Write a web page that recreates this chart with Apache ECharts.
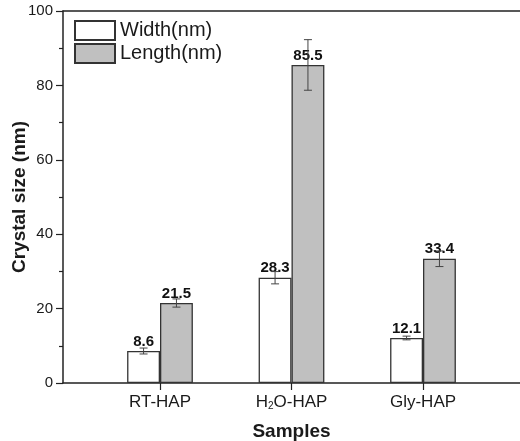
<!DOCTYPE html>
<html>
<head>
<meta charset="utf-8">
<script src="https://cdn.jsdelivr.net/npm/echarts@6/dist/echarts.min.js"></script>
<style>
  html, body { margin: 0; padding: 0; background: #fff; overflow: hidden; }
  #chart { width: 520px; height: 441px; }
</style>
</head>
<body>
<div id="chart"></div>
<script>
// data
var categories = ['RT-HAP', 'H2O-HAP', 'Gly-HAP'];
var widthValues = [8.6, 28.3, 12.1];
var widthErrors = [0.8, 1.65, 0.5];
var lengthValues = [21.5, 85.5, 33.4];
var lengthErrors = [1.1, 6.8, 2.1];
var yMin = 0, yMax = 100, yStep = 20;

var axisColor = '#222';
var textColor = '#1a1a1a';
var gridTop = 11, gridBottom = 58;

var chart = echarts.init(document.getElementById('chart'));

// error bar drawer, shift = fraction of band width from category centre
function errorBars(shift) {
  return function (params, api) {
    var i = api.value(0);
    var v = api.value(1);
    var e = api.value(2);
    var band = api.size([1, 0])[0];
    var hi = api.coord([i, v + e]);
    var lo = api.coord([i, v - e]);
    var x = hi[0] + band * shift;
    var cap = 4;
    var style = { stroke: '#444', lineWidth: 1 };
    return {
      type: 'group',
      children: [
        { type: 'line', shape: { x1: x, y1: hi[1], x2: x, y2: lo[1] }, style: style },
        { type: 'line', shape: { x1: x - cap, y1: hi[1], x2: x + cap, y2: hi[1] }, style: style },
        { type: 'line', shape: { x1: x - cap, y1: lo[1], x2: x + cap, y2: lo[1] }, style: style }
      ]
    };
  };
}

function errData(values, errors) {
  return values.map(function (v, i) { return [i, v, errors[i]]; });
}

var barLabel = {
  show: true,
  position: 'top',
  distance: 2,
  color: '#111',
  fontFamily: 'Liberation Sans, Arial',
  fontWeight: 'bold',
  fontSize: 15
};

function frameLine() {
  return { show: true, onZero: false, lineStyle: { color: axisColor, width: 1.5 } };
}

chart.setOption({
  animation: false,
  backgroundColor: '#fff',
  textStyle: { fontFamily: 'Liberation Sans, Arial' },
  legend: {
    orient: 'vertical',
    left: 74,
    top: 20,
    padding: 0,
    itemWidth: 40,
    itemHeight: 19,
    itemGap: 2,
    icon: 'rect',
    textStyle: { fontSize: 20, color: textColor },
    data: ['Width(nm)', 'Length(nm)']
  },
  grid: [
    // frame grid, runs past the right edge
    { left: 63, top: gridTop, bottom: gridBottom, right: -20, outerBoundsMode: 'none', containLabel: false },
    // data grid for the three categories
    { left: 94.25, top: gridTop, bottom: gridBottom, width: 394.5, outerBoundsMode: 'none', containLabel: false }
  ],
  xAxis: [
    {
      type: 'value', gridIndex: 0, position: 'bottom', min: 0, max: 1,
      axisLine: frameLine(),
      axisTick: { show: false }, axisLabel: { show: false }, splitLine: { show: false }
    },
    {
      type: 'value', gridIndex: 0, position: 'top', min: 0, max: 1,
      axisLine: frameLine(),
      axisTick: { show: false }, axisLabel: { show: false }, splitLine: { show: false }
    },
    {
      type: 'category', gridIndex: 1, data: categories,
      axisLine: { show: false },
      axisTick: { show: true, alignWithLabel: true, length: 7, lineStyle: { color: axisColor, width: 1.2 } },
      axisLabel: {
        interval: 0,
        hideOverlap: false,
        margin: 11,
        fontSize: 17,
        color: textColor,
        formatter: function (v) { return v.replace('H2O', 'H{sub|2}O'); },
        rich: {
          sub: { fontSize: 10, verticalAlign: 'bottom', lineHeight: 10, padding: [8, 0, 0, 0], color: textColor }
        }
      },
      name: 'Samples',
      nameLocation: 'middle',
      nameGap: 39,
      nameMoveOverlap: false,
      nameTextStyle: { fontSize: 19, fontWeight: 'bold', color: textColor }
    }
  ],
  yAxis: [
    {
      type: 'value', gridIndex: 0, position: 'left', min: yMin, max: yMax, interval: yStep,
      axisLine: frameLine(),
      axisTick: { show: true, length: 7, lineStyle: { color: axisColor, width: 1.2 } },
      minorTick: { show: true, splitNumber: 2, length: 4, lineStyle: { color: axisColor, width: 1.2 } },
      splitLine: { show: false },
      axisLabel: { fontSize: 15, color: textColor, margin: 10 },
      name: 'Crystal size (nm)',
      nameLocation: 'middle',
      nameGap: 34,
      nameMoveOverlap: false,
      nameTextStyle: { fontSize: 19, fontWeight: 'bold', color: textColor }
    },
    { type: 'value', gridIndex: 1, min: yMin, max: yMax, show: false }
  ],
  series: [
    {
      name: 'Width(nm)', type: 'bar', xAxisIndex: 2, yAxisIndex: 1,
      data: widthValues, barWidth: '25%', barGap: '0%',
      itemStyle: { color: '#ffffff', borderColor: '#333', borderWidth: 1.3 },
      label: barLabel
    },
    {
      name: 'Length(nm)', type: 'bar', xAxisIndex: 2, yAxisIndex: 1,
      data: lengthValues, barWidth: '25%', barGap: '0%',
      itemStyle: { color: '#c0c0c0', borderColor: '#333', borderWidth: 1.3 },
      label: barLabel
    },
    {
      type: 'custom', xAxisIndex: 2, yAxisIndex: 1, z: 10, silent: true,
      data: errData(widthValues, widthErrors),
      renderItem: errorBars(-0.125)
    },
    {
      type: 'custom', xAxisIndex: 2, yAxisIndex: 1, z: 10, silent: true,
      data: errData(lengthValues, lengthErrors),
      renderItem: errorBars(0.125)
    }
  ]
});
</script>
</body>
</html>
